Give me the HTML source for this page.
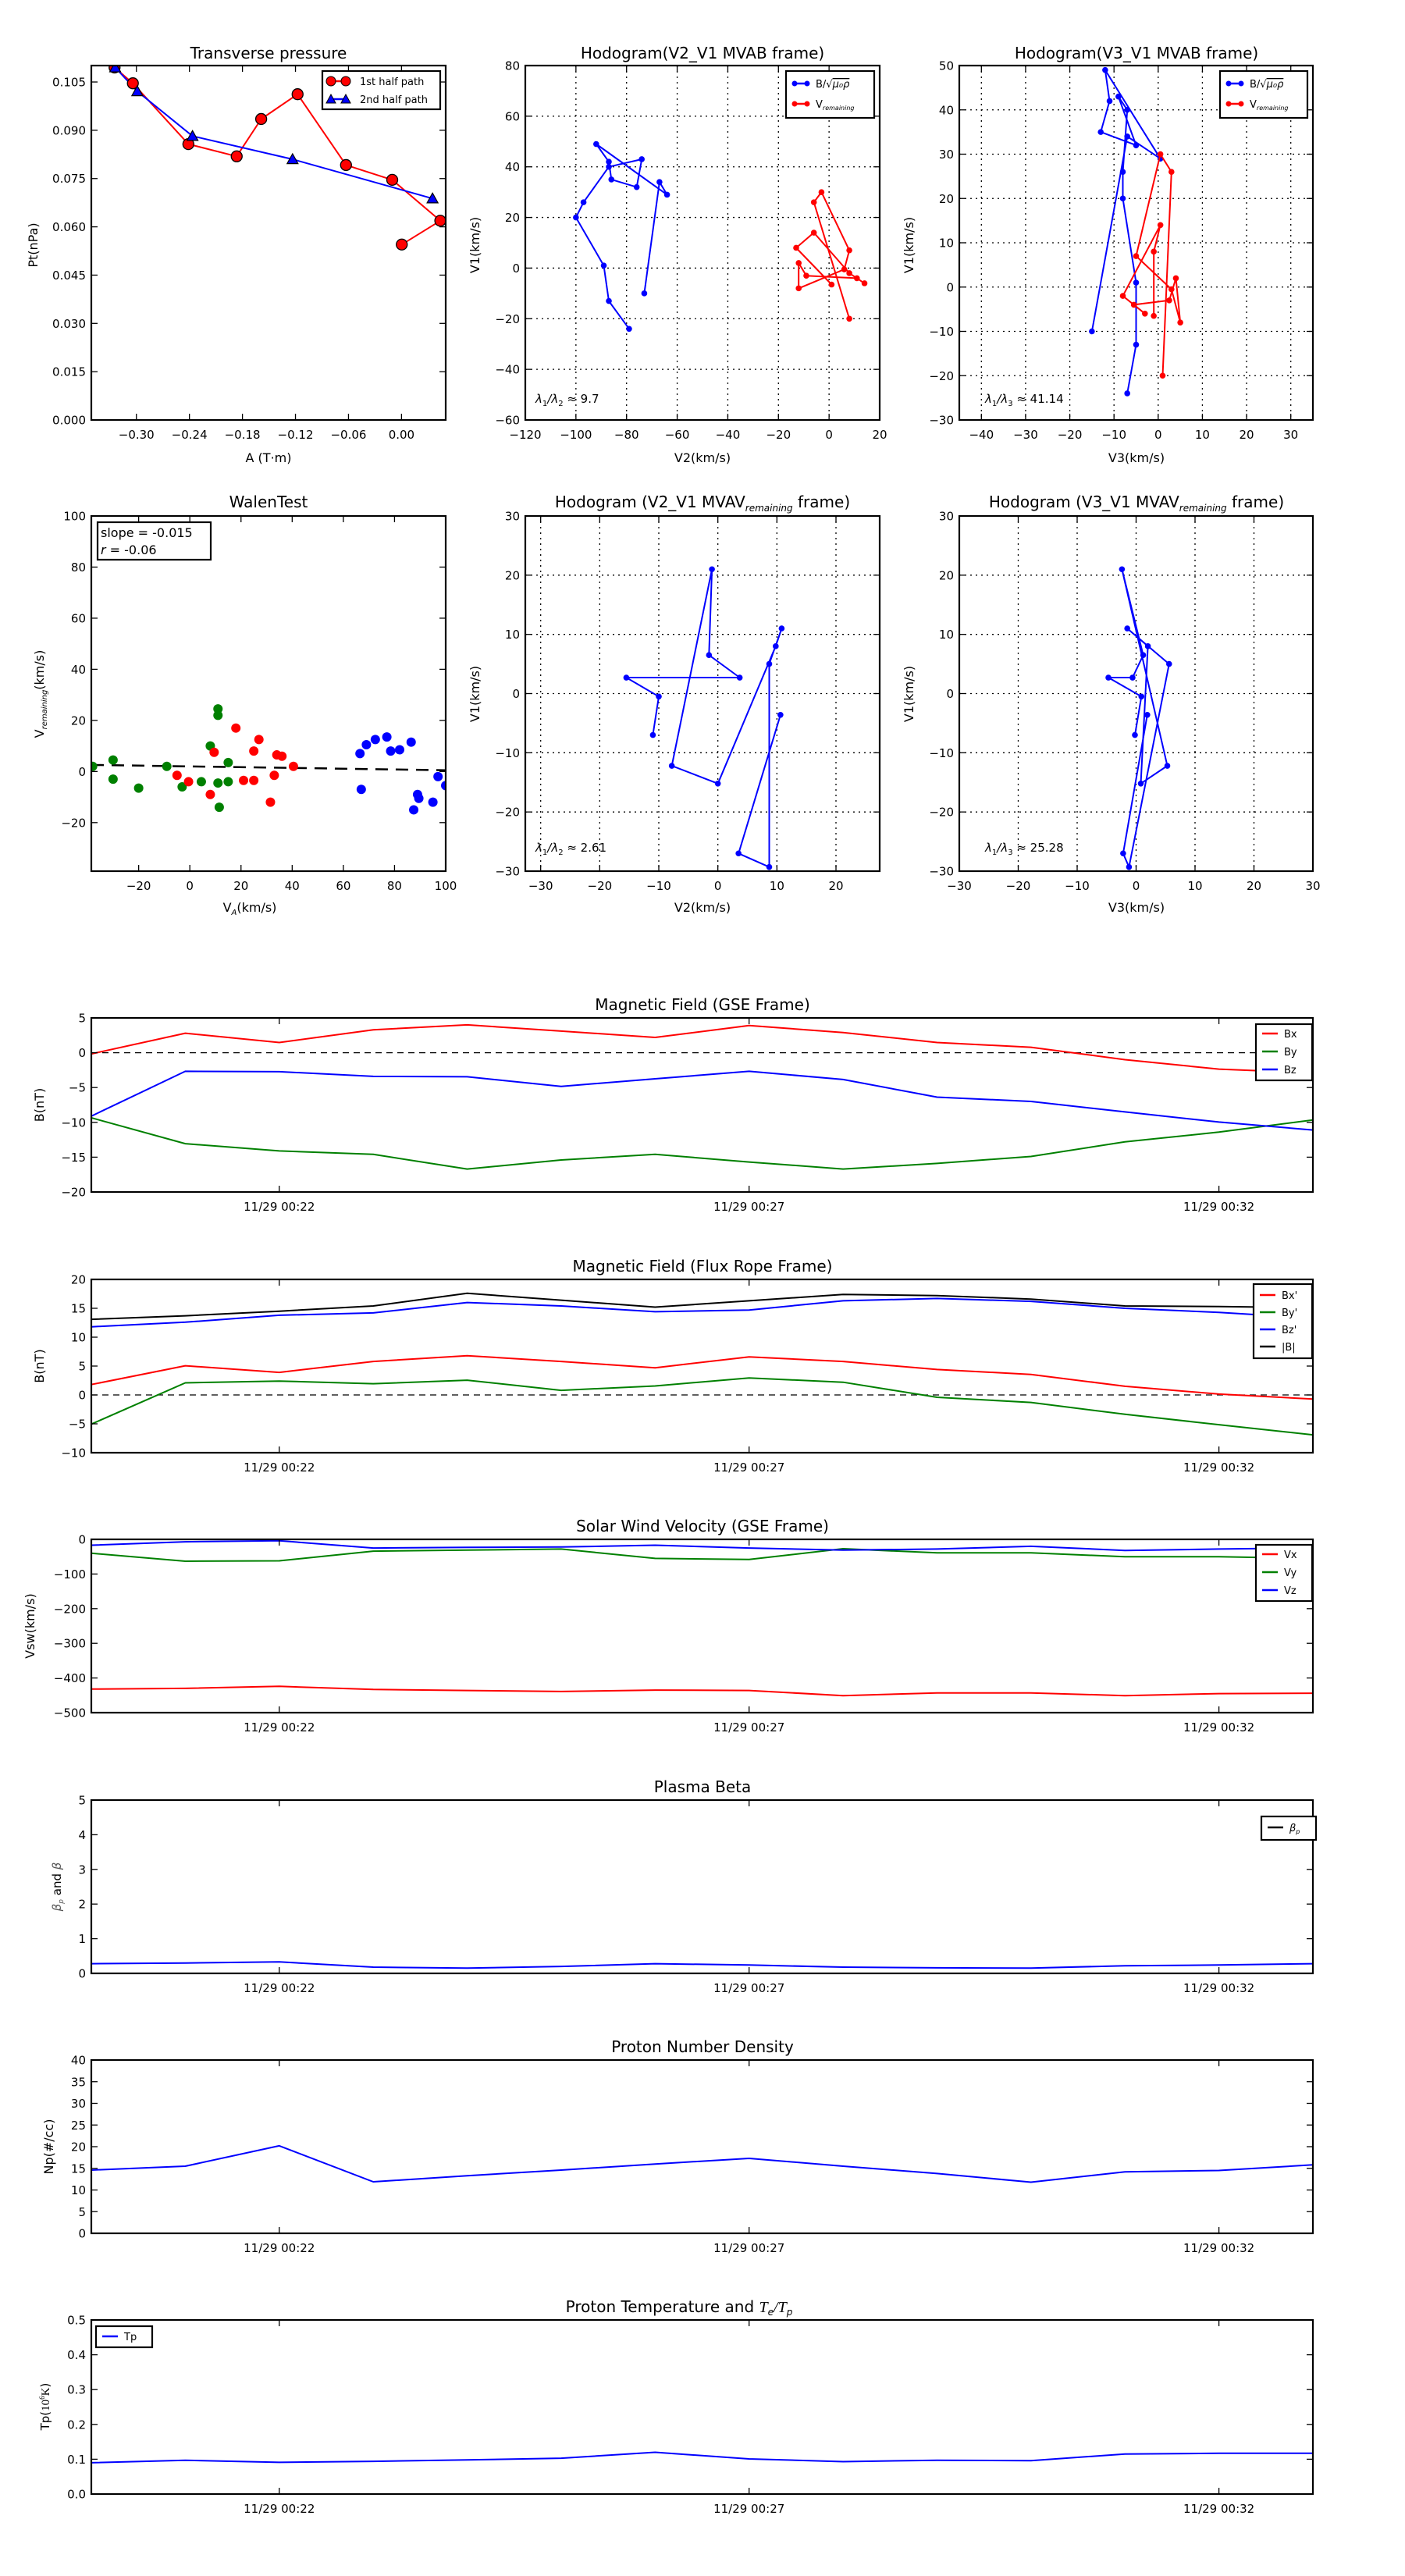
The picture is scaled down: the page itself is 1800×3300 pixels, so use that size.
<!DOCTYPE html>
<html><head><meta charset="utf-8"><title>Flux rope analysis</title>
<style>html,body{margin:0;padding:0;background:#fff}svg{display:block}text{font-family:"DejaVu Sans","Liberation Sans",sans-serif;fill:#000}</style>
</head><body>
<svg id="fig" xmlns="http://www.w3.org/2000/svg" width="1800" height="3300" viewBox="0 0 1800 3300"></svg>
<script>
// ---------- Transverse pressure ----------
const pt1A=[-0.3247,-0.304,-0.2412,-0.1865,-0.1588,-0.1176,-0.0628,-0.0105,0.0439,0.0003];
const pt1P=[0.1095,0.1046,0.0857,0.0819,0.0935,0.1012,0.0792,0.0746,0.0619,0.0545];
const pt2A=[-0.324,-0.299,-0.2365,-0.1233,0.0351];
const pt2P=[0.1095,0.1021,0.0882,0.081,0.0688];
const ptXTicks=[-0.30,-0.24,-0.18,-0.12,-0.06,0.00];
const ptYTicks=[0,0.015,0.030,0.045,0.060,0.075,0.090,0.105];
// ---------- MVAB hodograms ----------
const hbV1=[-24,-13,1,20,26,40,43,32,35,42,49,29,34,-10];
const hbV2=[-79,-87,-89,-100,-97,-87,-74,-76,-86,-87,-92,-64,-67,-73];
const hbV3=[-7,-5,-5,-8,-8,-7,-9,-5,-13,-11,-12,0.5,-7,-15];
const hrV1=[-20,26,30,7,-0.5,-8,2,-3,-4,-6,-2,14,8,-6.5];
const hrV2=[8,-6,-3,8,6,-12,-12,-9,11,14,8,-6,-13,1];
const hrV3=[1,3,0.5,-5,3,5,4,2.5,-5.5,-3,-8,0.5,-1,-1];
// ---------- MVAV hodograms ----------
const hvV1=[-7,-0.5,2.7,2.7,6.5,21,-12.2,-15.2,8,11,5,-29.3,-27,-3.6];
const hvV2=[-11,-10,-15.5,3.7,-1.5,-1,-7.8,0,9.8,10.8,8.7,8.7,3.5,10.6];
const hvV3=[-0.2,0.9,-4.7,-0.6,1.2,-2.4,5.3,0.8,2,-1.5,5.6,-1.2,-2.2,1.9];
// ---------- Walen test ----------
const wGx=[-38,-30,-30,-20,-9,-3,4.5,8,11,11,11,11.5,15,15];
const wGy=[2,4.5,-3,-6.5,2,-6,-4,10,24.5,22,-4.5,-14,3.5,-4];
const wRx=[-5,-0.5,8,9.5,18,21,25,25,27,31.5,33,34,36,40.5];
const wRy=[-1.5,-4,-9,7.5,17,-3.5,8,-3.5,12.5,-12,-1.5,6.5,6,2];
const wBx=[66.5,67,69,72.5,77,78.5,82,86.5,87.5,89,89.5,95,97,100];
const wBy=[7,-7,10.5,12.5,13.5,8,8.5,11.5,-15,-9,-10.5,-12,-2,-5.5];
const fitSlope=-0.015, fitIntercept=2.0;
// ---------- Time series ----------
const tMin=[0,1,2,3,4,5,6,7,8,9,10,11,12,13];
const timeTickPos=[2,7,12];
const timeTickLabels=['11/29 00:22','11/29 00:27','11/29 00:32'];
const gseBx=[-0.17,2.8,1.47,3.3,4.0,3.1,2.2,3.9,2.9,1.47,0.78,-1.0,-2.35,-2.9];
const gseBy=[-9.35,-13.06,-14.1,-14.6,-16.7,-15.4,-14.6,-15.7,-16.7,-15.9,-14.9,-12.8,-11.4,-9.65];
const gseBz=[-9.1,-2.67,-2.72,-3.4,-3.45,-4.83,-3.75,-2.67,-3.84,-6.38,-7.0,-8.5,-9.96,-11.1];
const frBx=[1.8,5.05,3.9,5.8,6.8,5.8,4.7,6.6,5.8,4.4,3.55,1.5,0.15,-0.7];
const frBy=[-5.05,2.1,2.4,1.95,2.55,0.8,1.55,2.95,2.2,-0.4,-1.3,-3.35,-5.15,-6.9];
const frBz=[11.8,12.6,13.8,14.2,16.0,15.4,14.4,14.7,16.3,16.7,16.2,15.0,14.3,13.3];
const frBt=[13.1,13.7,14.5,15.4,17.6,16.4,15.2,16.3,17.4,17.2,16.6,15.4,15.3,15.1];
const vX=[-432,-430,-424,-433,-436,-439,-435,-436,-451,-443,-443,-451,-445,-444];
const vY=[-40,-63,-62,-34,-31,-28,-55,-58,-27,-39,-39,-50,-50,-55];
const vZ=[-17,-7,-4,-25,-23,-22,-17,-25,-31,-28,-20,-32,-28,-25];
const betaP=[0.28,0.3,0.33,0.18,0.15,0.2,0.28,0.24,0.18,0.16,0.15,0.22,0.24,0.28];
const np=[14.6,15.5,20.2,11.9,13.3,14.6,16,17.3,15.5,13.8,11.8,14.2,14.5,15.8];
const tp=[0.09,0.097,0.091,0.094,0.098,0.103,0.12,0.101,0.093,0.097,0.096,0.115,0.117,0.117];

const NS='http://www.w3.org/2000/svg';
const svg=document.getElementById('fig');
let clipId=0;
function el(tag,attrs,parent){const e=document.createElementNS(NS,tag);for(const k in attrs)e.setAttribute(k,attrs[k]);(parent||svg).appendChild(e);return e;}
function fmtNum(v,d){const s=Math.abs(v).toFixed(d);return (v<0?'\u2212':'')+s;}
function txt(str,x,y,size,anchor,parent,name){const t=el('text',{x:x,y:y,'font-size':size,'text-anchor':anchor||'start'},parent);t.textContent=str;


return t;}
function vtxt(str,x,y,size,parent,name){const t=el('text',{x:0,y:0,'font-size':size,'text-anchor':'middle',transform:'translate('+x+','+y+') rotate(-90)'},parent);t.textContent=str;


return t;}
function makeAxes(name,box,xd,yd){
  const g=el('g',{});
  
  
  const [x0,y0,x1,y1]=box;
  const sx=v=>x0+(v-xd[0])/(xd[1]-xd[0])*(x1-x0);
  const sy=v=>y1-(v-yd[0])/(yd[1]-yd[0])*(y1-y0);
  const id='c'+(clipId++);
  const cp=el('clipPath',{id:id},g);const r=el('rect',{x:x0,y:y0,width:x1-x0,height:y1-y0},cp);
  const dg=el('g',{'clip-path':'url(#'+id+')'},g);
  
  
  return {g,dg,sx,sy,box};
}
function grid(ax,xt,yt){
  const [x0,y0,x1,y1]=ax.box;
  xt.forEach(v=>{const l=el('line',{x1:ax.sx(v),x2:ax.sx(v),y1:y0,y2:y1,stroke:'#000','stroke-width':1.3,'stroke-dasharray':'2,5'},ax.dg);
  
  });
  yt.forEach(v=>{const l=el('line',{x1:x0,x2:x1,y1:ax.sy(v),y2:ax.sy(v),stroke:'#000','stroke-width':1.3,'stroke-dasharray':'2,5'},ax.dg);
  
  });
}
function frame(ax,xt,xl,yt,yl,fs){
  const [x0,y0,x1,y1]=ax.box;fs=fs||15;
  xt.forEach((v,i)=>{const x=ax.sx(v);
    const a=el('line',{x1:x,x2:x,y1:y1,y2:y1-8,stroke:'#000','stroke-width':1.3},ax.g);
    
    
    const b=el('line',{x1:x,x2:x,y1:y0,y2:y0+8,stroke:'#000','stroke-width':1.3},ax.g);
    
    
    txt(xl[i],x,y1+24,fs,'middle',ax.g,'x-tick-label');});
  yt.forEach((v,i)=>{const y=ax.sy(v);
    const a=el('line',{x1:x0,x2:x0+8,y1:y,y2:y,stroke:'#000','stroke-width':1.3},ax.g);
    
    
    const b=el('line',{x1:x1,x2:x1-8,y1:y,y2:y,stroke:'#000','stroke-width':1.3},ax.g);
    
    
    txt(yl[i],x0-7,y+5.5,fs,'end',ax.g,'y-tick-label');});
  const r=el('rect',{x:x0,y:y0,width:x1-x0,height:y1-y0,fill:'none',stroke:'#000','stroke-width':2.2},ax.g);
  
  
}
function series(ax,xs,ys,color,name,w){
  const d=xs.map((v,i)=>(i?'L':'M')+ax.sx(v).toFixed(1)+','+ax.sy(ys[i]).toFixed(1)).join('');
  const p=el('path',{d:d,fill:'none',stroke:color,'stroke-width':w||2,'stroke-linejoin':'round'},ax.dg);
  
  
  return p;
}
function dots(ax,xs,ys,color,r,name,edge){
  xs.forEach((v,i)=>{const c=el('circle',{cx:ax.sx(v),cy:ax.sy(ys[i]),r:r,fill:color,stroke:edge||'none','stroke-width':1.3},ax.dg);
  
  });
}
function tris(ax,xs,ys,color,s,name){
  xs.forEach((v,i)=>{const x=ax.sx(v),y=ax.sy(ys[i]);
  const t=el('polygon',{points:[x,y-s,x-s,y+s*0.8,x+s,y+s*0.8].join(' ').replace(/(\S+) (\S+)/g,'$1,$2'),fill:color,stroke:'#000','stroke-width':1.2},ax.dg);
  
  });
}
function legendBox(x,y,w,h,name){const r=el('rect',{x:x,y:y,width:w,height:h,fill:'#fff',stroke:'#000','stroke-width':2.2});

}
function legLine(x,y,len,color,name){const l=el('line',{x1:x,x2:x+len,y1:y,y2:y,stroke:color,'stroke-width':2.5});

}
function range(a,b,s){const r=[];for(let v=a;v<=b+1e-9;v+=s)r.push(+v.toFixed(6));return r;}

// ===== Panel 1: Transverse pressure =====
(function(){
const ax=makeAxes('transverse-pressure-chart',[117,84,571,538],[-0.351,0.05],[0,0.1101]);
series(ax,pt1A,pt1P,'#f00','first-half-path-line',2);
series(ax,pt2A,pt2P,'#00f','second-half-path-line',2);
dots(ax,pt1A,pt1P,'#f00',7,'first-half-marker','#000');
tris(ax,pt2A,pt2P,'#00f',7,'second-half-marker');
frame(ax,ptXTicks,ptXTicks.map(v=>fmtNum(v,2)),ptYTicks,ptYTicks.map(v=>v.toFixed(3)),15);
txt('Transverse pressure',344,75,20,'middle',null,'chart-title');
txt('A (T\u00b7m)',344,592,16,'middle',null,'x-axis-title');
vtxt('Pt(nPa)',48,314,16,null,'y-axis-title');
legendBox(413,91,151,49,'legend');
legLine(421,104,22,'#f00','legend-line-1st');
let c=el('circle',{cx:424,cy:104,r:6,fill:'#f00',stroke:'#000'});
c=el('circle',{cx:443,cy:104,r:6,fill:'#f00',stroke:'#000'});
txt('1st half path',461,109,13,'start',null,'legend-entry');
legLine(421,127,22,'#00f','legend-line-2nd');
c=el('polygon',{points:'424,121 418,132 430,132',fill:'#00f',stroke:'#000'});
c=el('polygon',{points:'443,121 437,132 449,132',fill:'#00f',stroke:'#000'});
txt('2nd half path',461,132,13,'start',null,'legend-entry');
})();

function hodoLegend(x,y,w,h,two){
  legendBox(x,y,w,h,'hodogram-legend');
  legLine(x+8,y+16,22,'#00f','legend-line-b');
  let c=el('circle',{cx:x+11,cy:y+16,r:3.5,fill:'#00f'});
  c=el('circle',{cx:x+27,cy:y+16,r:3.5,fill:'#00f'});
  const t=txt('B/\u221a',x+38,y+21,13,'start',null,'legend-entry-b');
  const ts=el('tspan',{'font-style':'italic','text-decoration':'overline'},t);ts.textContent='\u03bc\u2080\u03c1';
  if(two){
  legLine(x+8,y+42,22,'#f00','legend-line-v');
  c=el('circle',{cx:x+11,cy:y+42,r:3.5,fill:'#f00'});
  c=el('circle',{cx:x+27,cy:y+42,r:3.5,fill:'#f00'});
  const t2=txt('V',x+38,y+47,13,'start',null,'legend-entry-v');
  const s=el('tspan',{'font-size':8,'font-style':'italic',dy:3},t2);s.textContent='remaining';}
}
function ratioText(x,y,a,b,val){
  const t=txt('',x,y,15,'start',null,'eigenvalue-ratio');
  let s=el('tspan',{'font-style':'italic'},t);s.textContent='\u03bb';
  s=el('tspan',{'font-size':10,dy:4},t);s.textContent=a;
  s=el('tspan',{dy:-4,'font-style':'italic'},t);s.textContent='/\u03bb';
  s=el('tspan',{'font-size':10,dy:4},t);s.textContent=b;
  s=el('tspan',{dy:-4},t);s.textContent=' \u2248 '+val;
}
function hodoTitle(x,y,main,sub,tail){
  const t=txt(main,x,y,20,'middle',null,'chart-title');
  if(sub){const s=el('tspan',{'font-size':12,'font-style':'italic',dy:5},t);s.textContent=sub;
  const s2=el('tspan',{dy:-5},t);s2.textContent=tail;}
}

// ===== Panel 2: Hodogram V2_V1 MVAB =====
(function(){
const xt=range(-120,20,20),yt=range(-60,80,20);
const ax=makeAxes('hodogram-v2-v1-mvab',[673,84,1127,538],[-120,20],[-60,80]);
grid(ax,xt,yt);
series(ax,hbV2,hbV1,'#00f','b-hodogram-line',2);dots(ax,hbV2,hbV1,'#00f',3.8,'b-hodogram-point');
series(ax,hrV2,hrV1,'#f00','v-hodogram-line',2);dots(ax,hrV2,hrV1,'#f00',3.8,'v-hodogram-point');
frame(ax,xt,xt.map(v=>fmtNum(v,0)),yt,yt.map(v=>fmtNum(v,0)),15);
hodoTitle(900,75,'Hodogram(V2_V1 MVAB frame)');
txt('V2(km/s)',900,592,16,'middle',null,'x-axis-title');
vtxt('V1(km/s)',614,314,16,null,'y-axis-title');
hodoLegend(1007,91,113,60,true);
ratioText(686,516,'1','2','9.7');
})();
// ===== Panel 3: Hodogram V3_V1 MVAB =====
(function(){
const xt=range(-40,30,10),yt=range(-30,50,10);
const ax=makeAxes('hodogram-v3-v1-mvab',[1229,84,1682,538],[-45,35],[-30,50]);
grid(ax,xt,yt);
series(ax,hbV3,hbV1,'#00f','b-hodogram-line',2);dots(ax,hbV3,hbV1,'#00f',3.8,'b-hodogram-point');
series(ax,hrV3,hrV1,'#f00','v-hodogram-line',2);dots(ax,hrV3,hrV1,'#f00',3.8,'v-hodogram-point');
frame(ax,xt,xt.map(v=>fmtNum(v,0)),yt,yt.map(v=>fmtNum(v,0)),15);
hodoTitle(1456,75,'Hodogram(V3_V1 MVAB frame)');
txt('V3(km/s)',1456,592,16,'middle',null,'x-axis-title');
vtxt('V1(km/s)',1170,314,16,null,'y-axis-title');
hodoLegend(1563,91,112,60,true);
ratioText(1262,516,'1','3','41.14');
})();
// ===== Panel 4: Walen test =====
(function(){
const xt=[-20,0,20,40,60,80,100],yt=[-20,0,20,40,60,80,100];
const ax=makeAxes('walen-test-chart',[117,661,571,1116],[-38.5,100],[-39,100]);
const fx=[-38.5,100];
const fl=el('path',{d:'M'+ax.sx(fx[0])+','+ax.sy(fitIntercept+fitSlope*fx[0])+'L'+ax.sx(fx[1])+','+ax.sy(fitIntercept+fitSlope*fx[1]),stroke:'#000','stroke-width':2.5,'stroke-dasharray':'16,10',fill:'none'},ax.dg);


dots(ax,wGx,wGy,'#008000',6,'walen-point-green');
dots(ax,wRx,wRy,'#f00',6,'walen-point-red');
dots(ax,wBx,wBy,'#00f',6,'walen-point-blue');
frame(ax,xt,xt.map(v=>fmtNum(v,0)),yt,yt.map(v=>fmtNum(v,0)),15);
txt('WalenTest',344,650,20,'middle',null,'chart-title');
const xl=txt('V',320,1168,16,'middle',null,'x-axis-title');
let s=el('tspan',{'font-size':10,'font-style':'italic',dy:4},xl);s.textContent='A';
s=el('tspan',{dy:-4},xl);s.textContent='(km/s)';
const yl=el('text',{x:0,y:0,'font-size':16,'text-anchor':'middle',transform:'translate(56,889) rotate(-90)'});


yl.textContent='V';s=el('tspan',{'font-size':10,'font-style':'italic',dy:4},yl);s.textContent='remaining';
s=el('tspan',{dy:-4},yl);s.textContent='(km/s)';
legendBox(125,669,145,48,'fit-statistics-box');
txt('slope = -0.015',129,688,16,'start',null,'slope-text');
const r=txt('',129,710,16,'start',null,'r-text');s=el('tspan',{'font-style':'italic'},r);s.textContent='r';s=el('tspan',{},r);s.textContent=' = -0.06';
})();
// ===== Panel 5/6: MVAV hodograms =====
(function(){
const xt=range(-30,20,10),yt=range(-30,30,10);
const ax=makeAxes('hodogram-v2-v1-mvav',[673,661,1127,1116],[-32.6,27.4],[-30,30]);
grid(ax,xt,yt);
series(ax,hvV2,hvV1,'#00f','hodogram-line',2);dots(ax,hvV2,hvV1,'#00f',3.8,'hodogram-point');
frame(ax,xt,xt.map(v=>fmtNum(v,0)),yt,yt.map(v=>fmtNum(v,0)),15);
hodoTitle(900,650,'Hodogram (V2_V1 MVAV','remaining',' frame)');
txt('V2(km/s)',900,1168,16,'middle',null,'x-axis-title');
vtxt('V1(km/s)',614,889,16,null,'y-axis-title');
ratioText(686,1091,'1','2','2.61');
const xt2=range(-30,30,10);
const ax2=makeAxes('hodogram-v3-v1-mvav',[1229,661,1682,1116],[-30,30],[-30,30]);
grid(ax2,xt2,yt);
series(ax2,hvV3,hvV1,'#00f','hodogram-line',2);dots(ax2,hvV3,hvV1,'#00f',3.8,'hodogram-point');
frame(ax2,xt2,xt2.map(v=>fmtNum(v,0)),yt,yt.map(v=>fmtNum(v,0)),15);
hodoTitle(1456,650,'Hodogram (V3_V1 MVAV','remaining',' frame)');
txt('V3(km/s)',1456,1168,16,'middle',null,'x-axis-title');
vtxt('V1(km/s)',1170,889,16,null,'y-axis-title');
ratioText(1262,1091,'1','3','25.28');
})();

// ===== Time series =====
function tsPanel(name,y0,y1,yd,yt,ylab,title,lines,legend,zero,labX,dec){
  const ax=makeAxes(name,[117,y0,1682,y1],[0,13],yd);
  if(zero){const z=el('line',{x1:117,x2:1682,y1:ax.sy(0),y2:ax.sy(0),stroke:'#000','stroke-width':1.2,'stroke-dasharray':'8,6'},ax.dg);
  
  }
  lines.forEach(l=>series(ax,tMin,l.v,l.c,l.n,2));
  frame(ax,timeTickPos,timeTickLabels,yt,yt.map(v=>fmtNum(v,dec)),15);
  if(typeof title==='function')title();else txt(title,900,y0-10,20,'middle',null,'chart-title');
  if(typeof ylab==='function')ylab();else vtxt(ylab,labX,(y0+y1)/2,16,null,'y-axis-title');
  if(legend){legendBox(legend.x,legend.y,legend.w,legend.h,'legend');
    lines.forEach((l,i)=>{const yy=legend.y+legend.y0+i*legend.dy;legLine(legend.x+8,yy,20,l.c,'legend-line');
    txt(l.label,legend.x+36,yy+5,13,'start',null,'legend-entry');});}
  return ax;
}
tsPanel('magnetic-field-gse-chart',1304,1527,[-20,5],range(-20,5,5),'B(nT)','Magnetic Field (GSE Frame)',
 [{v:gseBx,c:'#f00',n:'bx-line',label:'Bx'},{v:gseBy,c:'#008000',n:'by-line',label:'By'},{v:gseBz,c:'#00f',n:'bz-line',label:'Bz'}],
 {x:1609,y:1312,w:72,h:72,y0:12,dy:23},true,56,0);
tsPanel('magnetic-field-flux-rope-chart',1639,1861,[-10,20],range(-10,20,5),'B(nT)','Magnetic Field (Flux Rope Frame)',
 [{v:frBx,c:'#f00',n:'bx-prime-line',label:"Bx'"},{v:frBy,c:'#008000',n:'by-prime-line',label:"By'"},{v:frBz,c:'#00f',n:'bz-prime-line',label:"Bz'"},{v:frBt,c:'#000',n:'b-total-line',label:'|B|'}],
 {x:1606,y:1645,w:75,h:95,y0:14,dy:22},true,56,0);
tsPanel('solar-wind-velocity-chart',1972,2194,[-500,0],range(-500,0,100),'Vsw(km/s)','Solar Wind Velocity (GSE Frame)',
 [{v:vX,c:'#f00',n:'vx-line',label:'Vx'},{v:vY,c:'#008000',n:'vy-line',label:'Vy'},{v:vZ,c:'#00f',n:'vz-line',label:'Vz'}],
 {x:1609,y:1979,w:72,h:72,y0:12,dy:23},false,44,0);
tsPanel('plasma-beta-chart',2306,2528,[0,5],range(0,5,1),function(){
   const t=el('text',{x:0,y:0,'font-size':15,'text-anchor':'middle',transform:'translate(78,2417) rotate(-90)'});
   
   
   let s=el('tspan',{'font-style':'italic',fill:'#555'},t);s.textContent='\u03b2';s=el('tspan',{'font-size':9,'font-style':'italic',dy:3,fill:'#555'},t);s.textContent='p';
   s=el('tspan',{dy:-3},t);s.textContent=' and ';s=el('tspan',{'font-style':'italic',fill:'#555'},t);s.textContent='\u03b2';},
 'Plasma Beta',[{v:betaP,c:'#00f',n:'beta-p-line',label:''}],null,false,74,0);
(function(){legendBox(1616,2327,70,30,'legend');legLine(1624,2341,20,'#000','legend-line');
 const t=txt('',1652,2346,13,'start',null,'legend-entry');let s=el('tspan',{'font-style':'italic'},t);s.textContent='\u03b2';s=el('tspan',{'font-size':8,'font-style':'italic',dy:3},t);s.textContent='p';})();
tsPanel('proton-density-chart',2639,2861,[0,40],range(0,40,5),'Np(#/cc)','Proton Number Density',
 [{v:np,c:'#00f',n:'np-line',label:'Np'}],null,false,68,0);
tsPanel('proton-temperature-chart',2972,3195,[0,0.5],range(0,0.5,0.1),function(){
   const t=el('text',{x:0,y:0,'font-size':15,'text-anchor':'middle',transform:'translate(63,3083) rotate(-90)'});
   
   
   t.textContent='Tp(';let s=el('tspan',{'font-family':'Liberation Serif'},t);s.textContent='10';
   s=el('tspan',{'font-size':9,dy:-6,'font-family':'Liberation Serif'},t);s.textContent='6';
   s=el('tspan',{dy:6,'font-family':'Liberation Serif'},t);s.textContent='K';s=el('tspan',{},t);s.textContent=')';},
 function(){const t=txt('Proton Temperature and ',870,2962,20,'middle',null,'chart-title');
   let s=el('tspan',{'font-style':'italic','font-family':'Liberation Serif'},t);s.textContent='T';
   s=el('tspan',{'font-size':12,'font-style':'italic',dy:4},t);s.textContent='e';
   s=el('tspan',{dy:-4,'font-style':'italic','font-family':'Liberation Serif'},t);s.textContent='/T';
   s=el('tspan',{'font-size':12,'font-style':'italic',dy:4},t);s.textContent='p';},
 [{v:tp,c:'#00f',n:'tp-line',label:'Tp'}],{x:123,y:2980,w:72,h:27,y0:13,dy:22},false,58,1);
</script>
</body></html>
